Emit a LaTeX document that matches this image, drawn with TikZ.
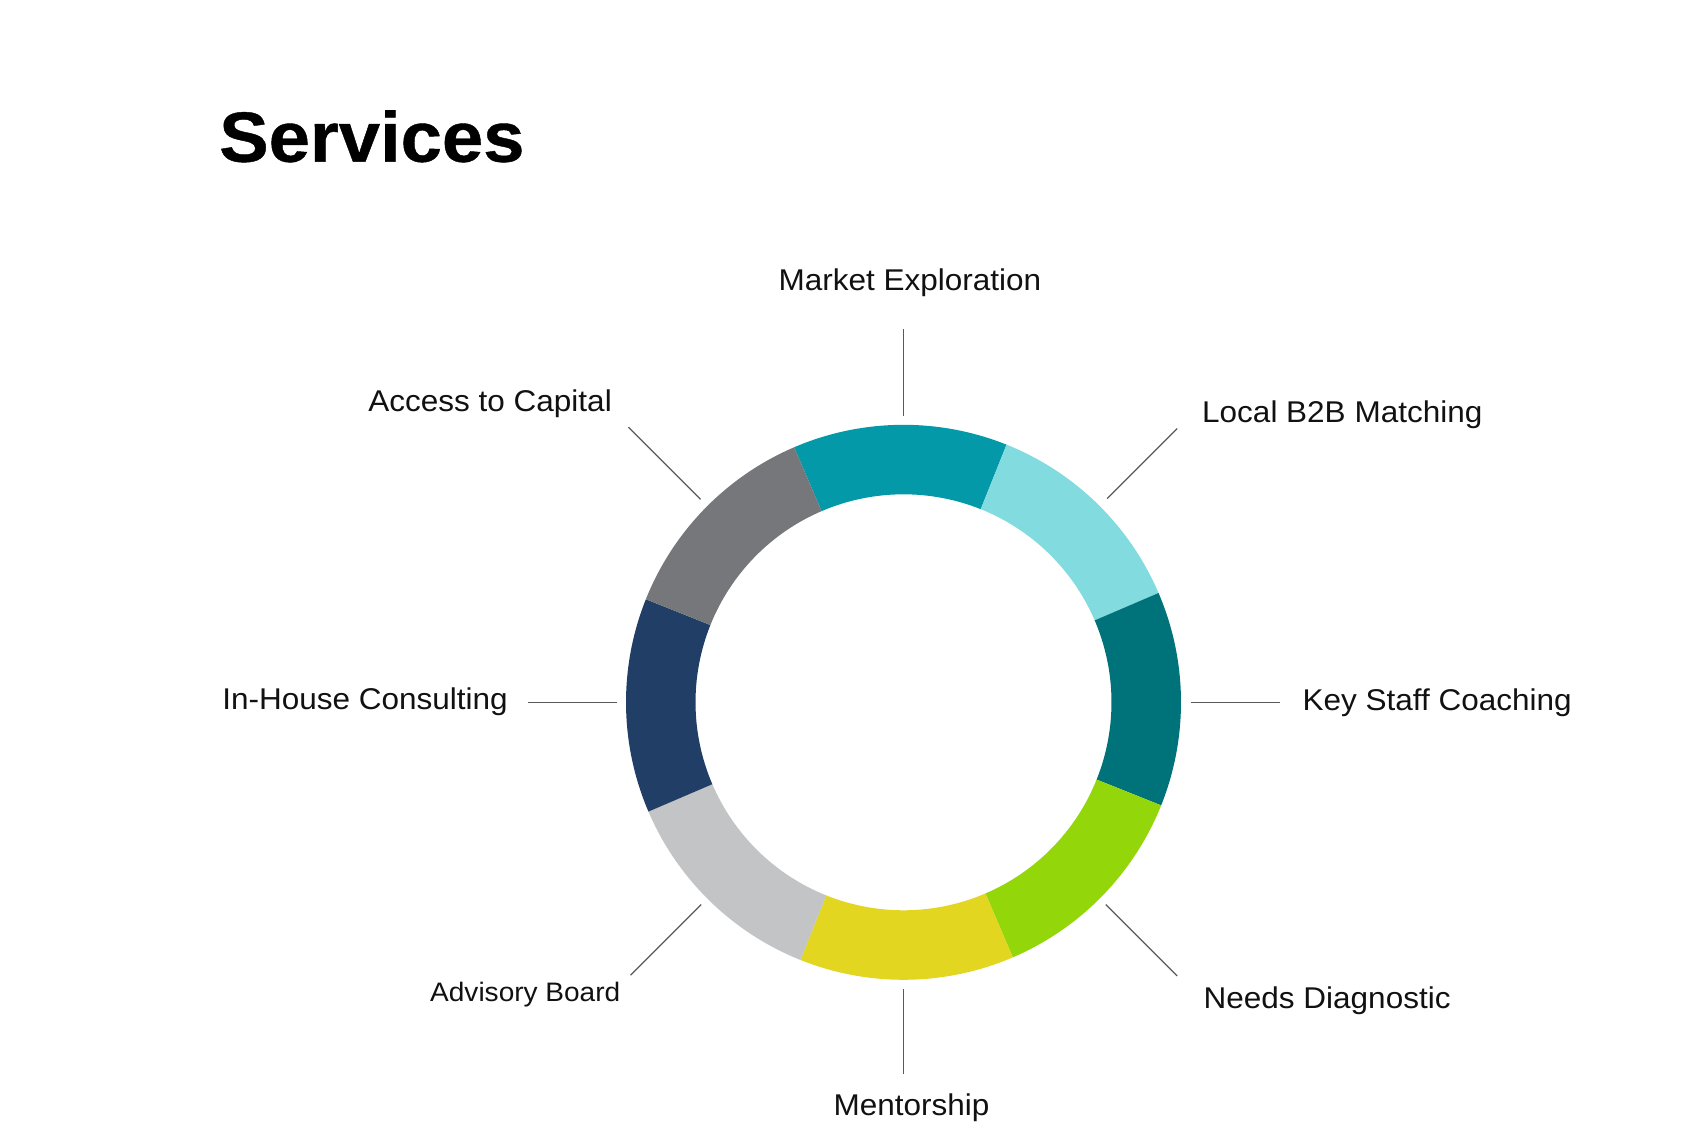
\documentclass[tikz,border=0pt]{standalone}
\usepackage{fontspec}
\setmainfont[FakeStretch=1.05]{Liberation Sans}
\newfontfamily\titlefam[FakeStretch=1.045,FakeBold=0.6]{Liberation Sans}
\usetikzlibrary{calc}
\definecolor{cME}{HTML}{0399A8}
\definecolor{cLB}{HTML}{82DBDF}
\definecolor{cKS}{HTML}{00727A}
\definecolor{cND}{HTML}{93D60A}
\definecolor{cMT}{HTML}{E2D621}
\definecolor{cAB}{HTML}{C3C4C6}
\definecolor{cIH}{HTML}{213F66}
\definecolor{cAC}{HTML}{76777B}
\definecolor{leadcol}{HTML}{5A5A5A}
\definecolor{txtcol}{HTML}{111111}
\tikzset{
  lbl/.style={inner sep=0pt, text=txtcol, font=\fontsize{30}{36}\selectfont},
  smalllbl/.style={inner sep=0pt, text=txtcol, font=\fontsize{26.7}{32}\selectfont},
  titlelbl/.style={inner sep=0pt, text=black, font=\titlefam\bfseries\fontsize{71}{80}\selectfont},
  leader/.style={draw=leadcol, line width=1.2pt},
}
\begin{document}
\begin{tikzpicture}[x=1pt,y=-1pt]
\useasboundingbox (0,0) rectangle (1700,1140);
\fill[white] (0,0) rectangle (1700,1140);
\coordinate (c) at (903.5,702.3);
% ring segments (math angles, counter-clockwise, up positive)
\foreach \ang/\col in {90/cME,45/cLB,0/cKS,-45/cND,-90/cMT,-135/cAB,180/cIH,135/cAC}{
  \pgfmathsetmacro{\aa}{\ang-22.5+0.7}
  \pgfmathsetmacro{\ab}{\ang+22.5+0.7}
  \fill[\col] ($(c)+(\aa:277.5pt)$) arc[start angle=\aa, end angle=\ab, radius=277.5pt]
     -- ($(c)+(\ab:208pt)$) arc[start angle=\ab, end angle=\aa, radius=208pt] -- cycle;
}
% title
\node[titlelbl, anchor=base west] (title) at (219,161.7) {Services};
% labels
\node[lbl, anchor=base] (me) at (910,290.7) {Market Exploration};
\node[lbl, anchor=base west] (lb) at (1202,422.7) {Local B2B Matching};
\node[lbl, anchor=base west] (ks) at (1302.5,710) {Key Staff Coaching};
\node[lbl, anchor=base west] (nd) at (1203.5,1008.3) {Needs Diagnostic};
\node[lbl, anchor=base] (mt) at (911.5,1115) {Mentorship};
\node[smalllbl, anchor=base east] (ab) at (620.5,1001.7) {Advisory Board};
\node[lbl, anchor=base east] (ih) at (508,709) {In-House Consulting};
\node[lbl, anchor=base east] (ac) at (612,411.7) {Access to Capital};
% leader line ends
\coordinate (me1) at ($(c)+(90:286pt)$);   \coordinate (me2) at ($(c)+(90:373pt)$);
\coordinate (mt1) at ($(c)+(-90:287pt)$);  \coordinate (mt2) at ($(c)+(-90:372pt)$);
\coordinate (ih1) at ($(c)+(180:286.5pt)$); \coordinate (ih2) at ($(c)+(180:375.5pt)$);
\coordinate (ks1) at ($(c)+(0:287.5pt)$);  \coordinate (ks2) at ($(c)+(0:376pt)$);
\coordinate (lb1) at ($(c)+(45:288pt)$);   \coordinate (lb2) at ($(c)+(45:387pt)$);
\coordinate (ac1) at ($(c)+(135:287pt)$);  \coordinate (ac2) at ($(c)+(135:389pt)$);
\coordinate (ab1) at ($(c)+(-135:286pt)$); \coordinate (ab2) at ($(c)+(-135:386pt)$);
\coordinate (nd1) at ($(c)+(-45:286pt)$);  \coordinate (nd2) at ($(c)+(-45:387pt)$);
\foreach \p in {me,mt,ih,ks,lb,ac,ab,nd}{
  \draw[leader] (\p1) -- (\p2);
}
\end{tikzpicture}
\end{document}
